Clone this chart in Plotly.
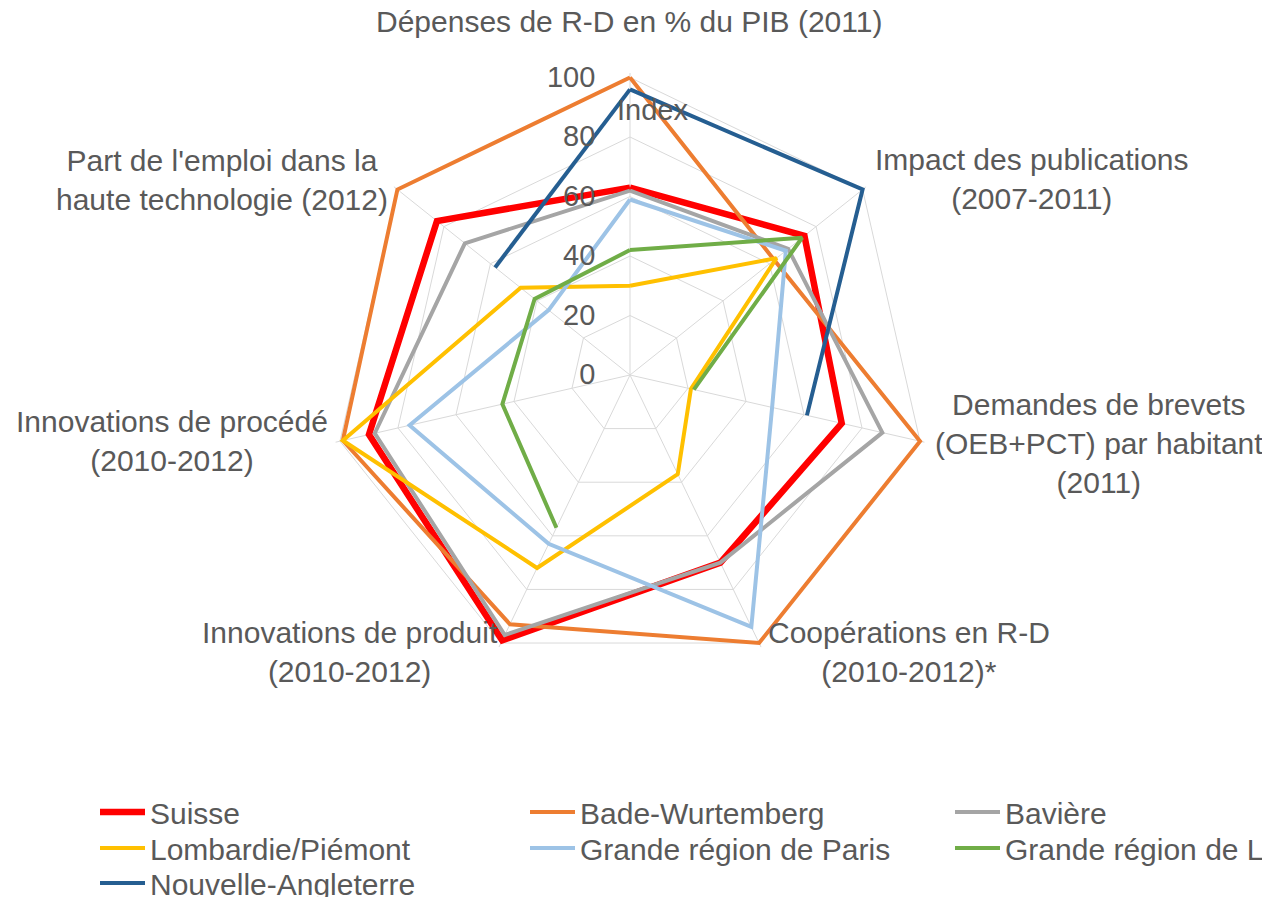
import plotly.graph_objects as go

# ---- data ----
categories = [
    "Dépenses de R-D en % du PIB (2011)",
    "Impact des publications<br>(2007-2011)",
    "Demandes de brevets<br>(OEB+PCT) par habitant<br>(2011)",
    "Coopérations en R-D<br>(2010-2012)*",
    "Innovations de produit<br>(2010-2012)",
    "Innovations de procédé<br>(2010-2012)",
    "Part de l'emploi dans la<br>haute technologie (2012)",
]
series_names = ["Suisse", "Bade-Wurtemberg", "Bavière", "Lombardie/Piémont",
                "Grande région de Paris", "Grande région de Lyon", "Nouvelle-Angleterre"]
suisse = [63, 75, 73, 70, 99, 90, 83]
bade_wurtemberg = [100, 62, 100, 100, 93, 99, 100]
baviere = [62, 68, 87, 70, 97, 88, 71]
lombardie_piemont = [30, 63, 21, 37, 72, 99, 47]
paris = [59, 67, 49, 94, 63, 76, 35]
lyon = [42, 74, 22, None, 57, 44, 41]
nouvelle_angleterre = [96, 100, 61, None, None, None, 58]
radial_ticks = [0, 20, 40, 60, 80, 100]
radial_title = "Index"

series_values = [suisse, bade_wurtemberg, baviere, lombardie_piemont, paris, lyon, nouvelle_angleterre]

# ---- styles / layout ----
OFF = 8                      # page body margin
W, H = 1270 - OFF, 897 - OFF
colors = ["#FF0000", "#ED7D31", "#A5A5A5", "#FFC000", "#9DC3E6", "#70AD47", "#255E91"]
widths = [6.5, 4, 4, 4, 4, 4, 4]
text_color = "#595959"
grid_color = "#D9D9D9"
font_family = "Liberation Sans, Arial, sans-serif"

r_max = 101.5                 # small head-room so lines at 100 are not clipped
cx, cy, R100 = 630 - OFF, 375 - OFF, 297.5  # polar centre / radius of the 100 ring in px
R = R100 * r_max / 100
# label centres (page px) for the category annotations
label_pos = [(629, 22), (1032, 179), (1099, 443), (909, 652), (350, 652), (172, 441), (222, 180)]
# legend item positions (left page px, centre y page px)
legend_pos = [(95, 812), (525, 812), (950, 812), (95, 848), (525, 848), (950, 848), (95, 883)]
legend_ids = ["legend"] + ["legend%d" % i for i in range(2, 8)]


def px(x):
    return (x - OFF) / W


def py(y):
    return 1 - (y - OFF) / H


fig = go.Figure()
theta_closed = categories + [categories[0]]
for name, vals, col, lw, lid in zip(series_names, series_values, colors, widths, legend_ids):
    fig.add_trace(go.Scatterpolar(
        r=vals + [vals[0]],
        theta=theta_closed,
        mode="lines",
        name=name,
        line=dict(color=col, width=lw),
        connectgaps=False,
        legend=lid,
        showlegend=True,
        hoverinfo="name+r",
    ))

layout = dict(
    width=W, height=H,
    showlegend=True,
    margin=dict(l=0, r=0, t=0, b=0, autoexpand=False),
    paper_bgcolor="white",
    plot_bgcolor="white",
    font=dict(family=font_family, color=text_color, size=29),
    polar=dict(
        domain=dict(x=[(cx - R) / W, (cx + R) / W], y=[1 - (cy + R) / H, 1 - (cy - R) / H]),
        bgcolor="rgba(0,0,0,0)",
        gridshape="linear",
        angularaxis=dict(
            type="category",
            categoryarray=categories,
            direction="clockwise",
            rotation=90,
            showticklabels=False,
            ticks="",
            showgrid=True,
            gridcolor=grid_color,
            gridwidth=1,
            showline=False,
        ),
        radialaxis=dict(
            range=[0, r_max],
            tickvals=radial_ticks,
            angle=90,
            tickangle=90,
            side="counterclockwise",
            showline=False,
            showgrid=True,
            gridcolor=grid_color,
            gridwidth=1,
            ticks="outside",
            ticklen=24,
            tickcolor="rgba(0,0,0,0)",
            tickfont=dict(size=29, color=text_color, family=font_family),
        ),
    ),
)

for lid, (lx, ly) in zip(legend_ids, legend_pos):
    layout[lid] = dict(
        x=px(lx), y=py(ly), xanchor="left", yanchor="middle",
        font=dict(size=30, color=text_color, family=font_family),
        bgcolor="rgba(0,0,0,0)", borderwidth=0, itemwidth=45,
        visible=True,
    )

fig.update_layout(**layout)

annotations = []
for txt, (lx, ly) in zip(categories, label_pos):
    annotations.append(dict(
        text=txt, x=px(lx), y=py(ly), xref="paper", yref="paper",
        xanchor="center", yanchor="middle", align="center", showarrow=False,
        font=dict(size=30, color=text_color, family=font_family),
    ))
annotations.append(dict(
    text=radial_title, x=px(652), y=py(110), xref="paper", yref="paper",
    xanchor="center", yanchor="middle", showarrow=False,
    font=dict(size=29, color=text_color, family=font_family),
))
fig.update_layout(annotations=annotations)

fig.write_html("out.html")
